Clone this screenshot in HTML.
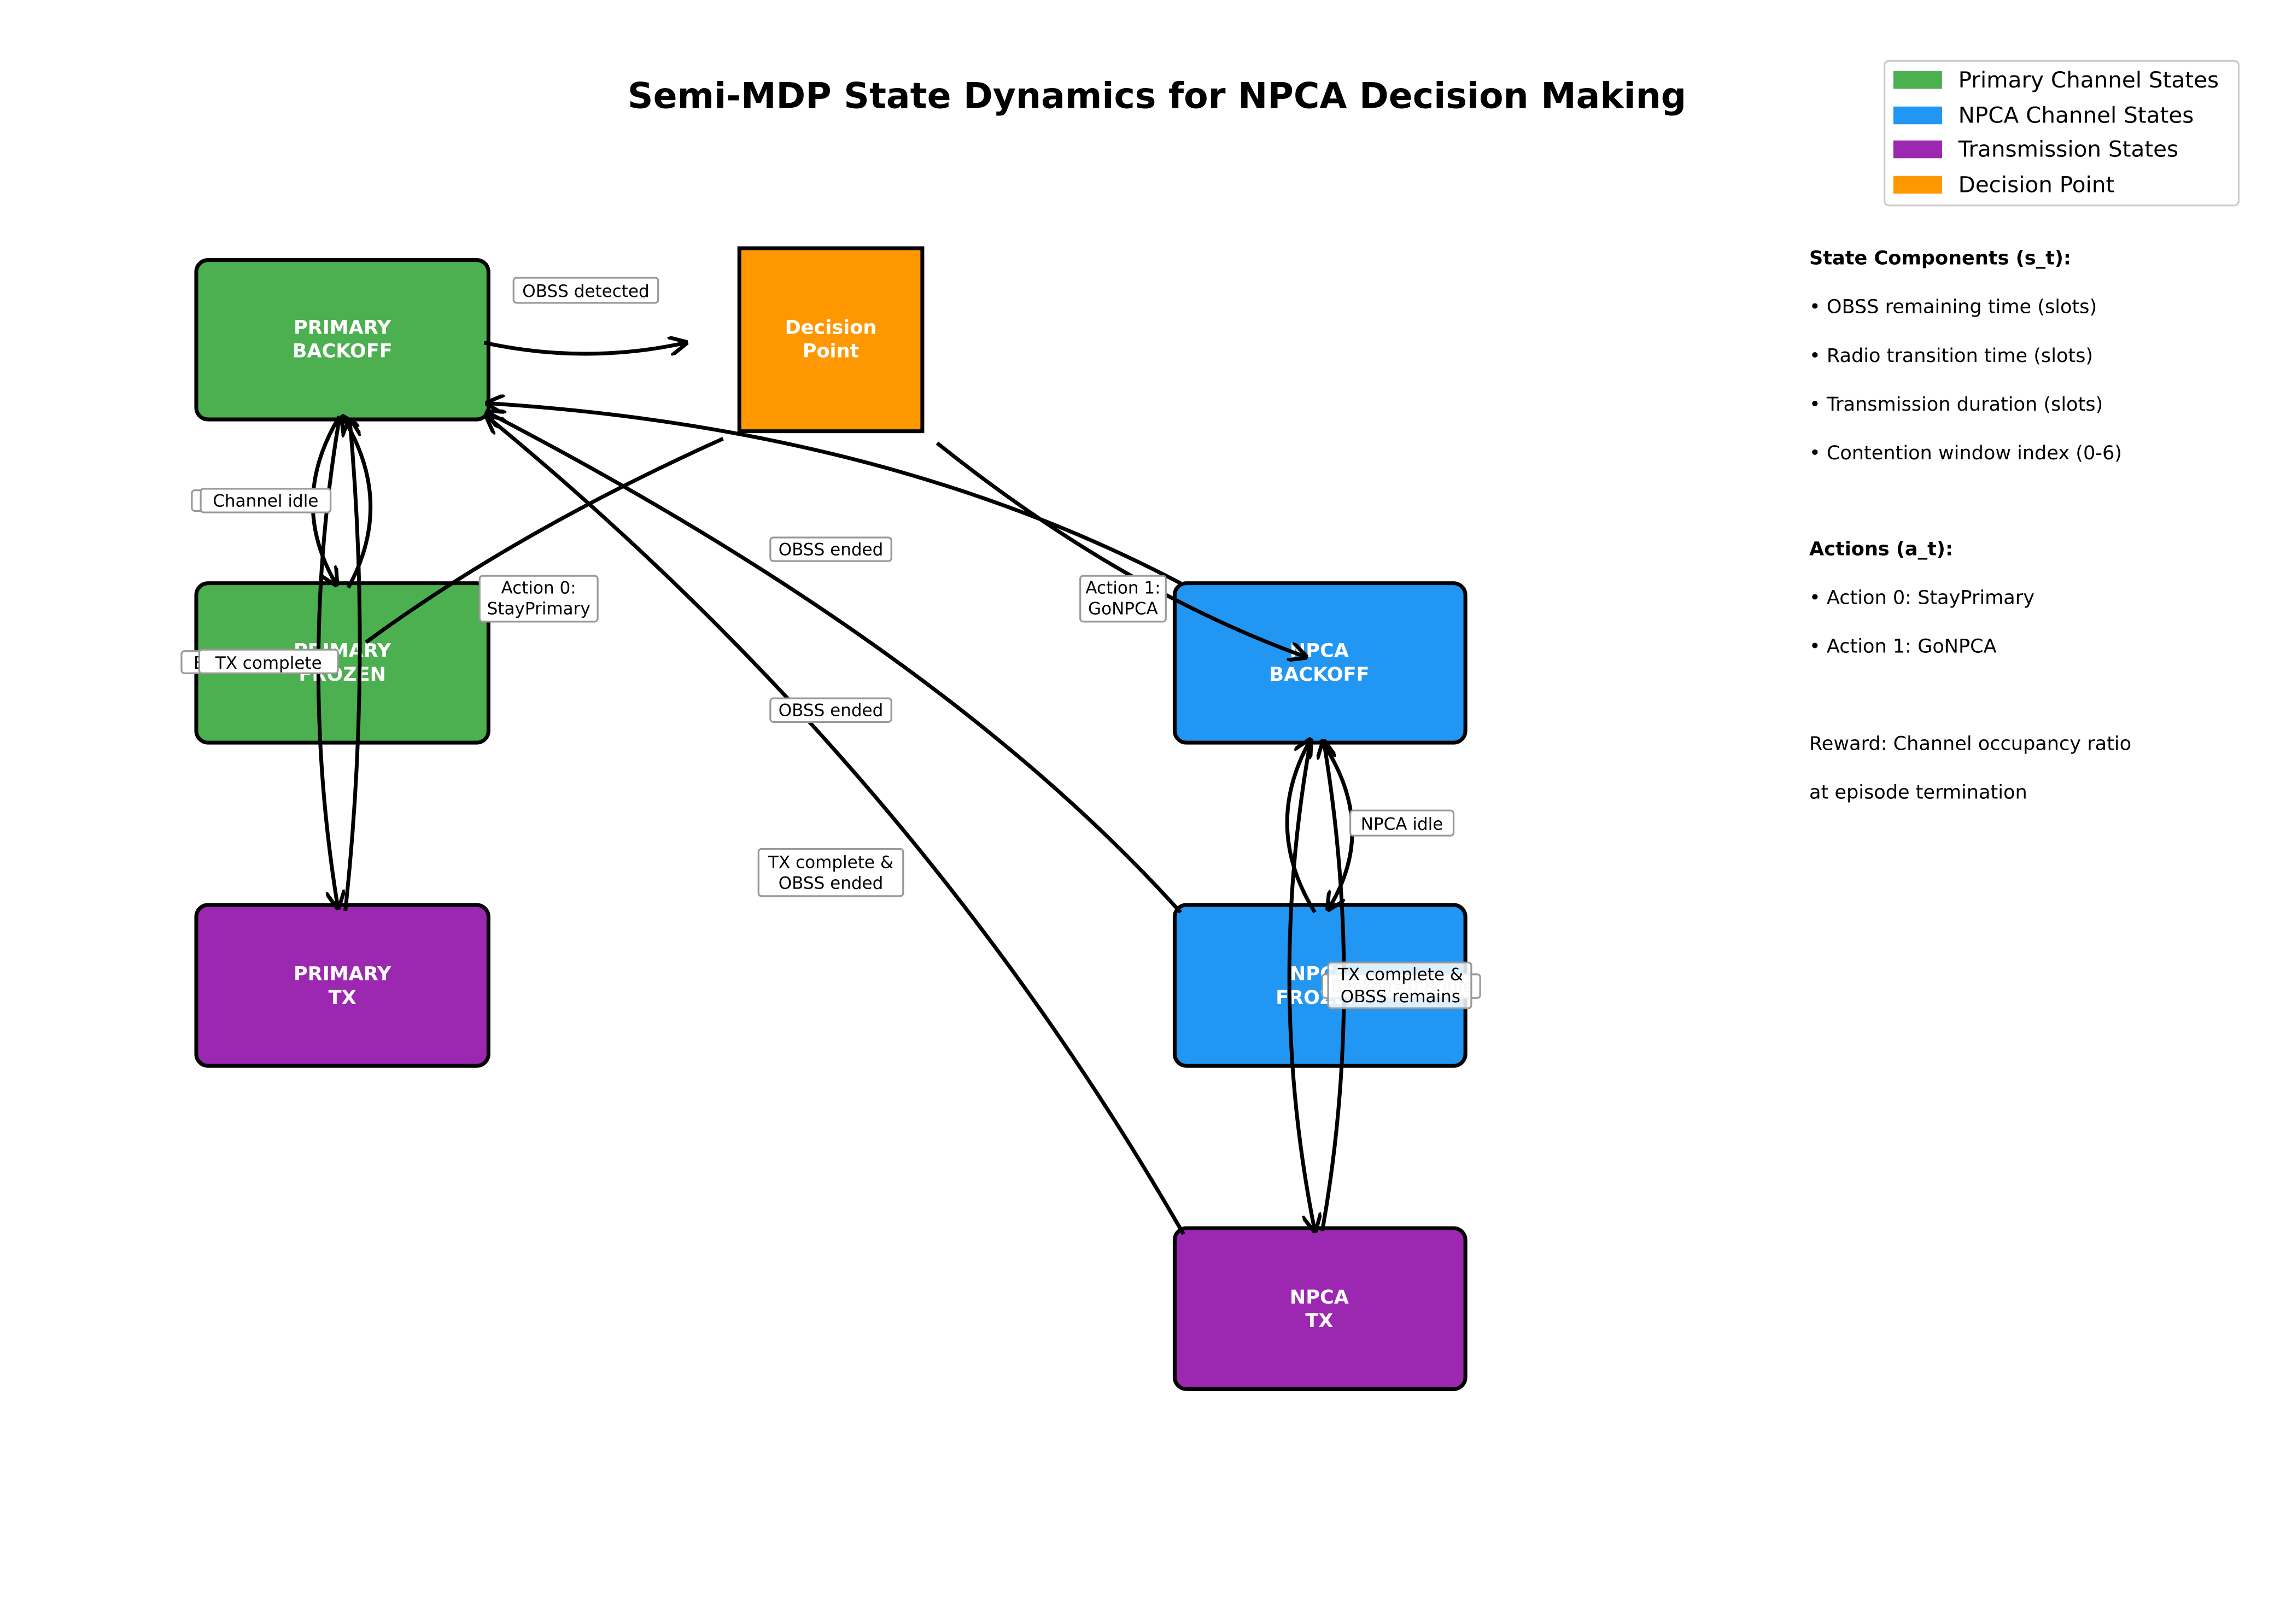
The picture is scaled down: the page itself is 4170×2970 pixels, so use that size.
<!DOCTYPE html>
<html><head><meta charset="utf-8"><style>
html,body{margin:0;padding:0;background:#fff}
svg{display:block}
text{font-family:"DejaVu Sans","Liberation Sans",sans-serif}
.bx{font-weight:bold;fill:#fff;font-size:13px;text-anchor:middle}
.lb{font-size:11.5px;text-anchor:middle}
.lr{fill:#fff;stroke:#999;stroke-width:1.2}
.ar{fill:none;stroke:#000;stroke-width:2.6}
.rt{font-size:13px}
</style></head><body>
<svg width="4170" height="2970" viewBox="0 0 1545 1100" xmlns="http://www.w3.org/2000/svg">
<defs><marker id="a" viewBox="0 0 10 10" refX="9" refY="5" markerWidth="5" markerHeight="5" orient="auto-start-reverse"><path d="M0,0 L10,5 L0,10" fill="none" stroke="#000" stroke-width="2"/></marker></defs>
<text x="784" y="73" text-anchor="middle" font-size="24" font-weight="bold">Semi-MDP State Dynamics for NPCA Decision Making</text>

<rect x="133" y="176" width="198" height="108" rx="8" fill="#4CAF50" stroke="#000" stroke-width="2.6"/>
<rect x="133" y="395" width="198" height="108" rx="8" fill="#4CAF50" stroke="#000" stroke-width="2.6"/>
<rect x="133" y="613" width="198" height="109" rx="8" fill="#9C27B0" stroke="#000" stroke-width="2.6"/>
<rect x="501" y="168" width="124" height="124" fill="#FF9800" stroke="#000" stroke-width="2.6"/>
<rect x="796" y="395" width="197" height="108" rx="8" fill="#2196F3" stroke="#000" stroke-width="2.6"/>
<rect x="796" y="613" width="197" height="109" rx="8" fill="#2196F3" stroke="#000" stroke-width="2.6"/>
<rect x="796" y="832" width="197" height="109" rx="8" fill="#9C27B0" stroke="#000" stroke-width="2.6"/>

<text class="bx" x="232" y="226">PRIMARY</text><text class="bx" x="232" y="242">BACKOFF</text>
<text class="bx" x="232" y="445">PRIMARY</text><text class="bx" x="232" y="461">FROZEN</text>
<text class="bx" x="232" y="664">PRIMARY</text><text class="bx" x="232" y="680">TX</text>
<text class="bx" x="563" y="226">Decision</text><text class="bx" x="563" y="242">Point</text>
<text class="bx" x="894" y="445">NPCA</text><text class="bx" x="894" y="461">BACKOFF</text>
<text class="bx" x="894" y="664">NPCA</text><text class="bx" x="894" y="680">FROZEN</text>
<text class="bx" x="894" y="883">NPCA</text><text class="bx" x="894" y="899">TX</text>

<path class="ar" marker-end="url(#a)" d="M328,232 Q397,247 465,232"/>
<path class="ar" d="M490,297 Q350,360 248,435"/>
<path class="ar" marker-end="url(#a)" d="M635,300 Q760,400 885,445"/>
<path class="ar" marker-end="url(#a)" d="M800,395 Q600,290 330,273"/>
<path class="ar" marker-end="url(#a)" d="M800,618 Q640,440 330,279"/>
<path class="ar" marker-end="url(#a)" d="M802,836 Q620,520 330,282"/>
<path class="ar" marker-end="url(#a)" d="M230,282 Q195,340 228,396"/>
<path class="ar" marker-end="url(#a)" d="M236,398 Q268,340 232,282"/>
<path class="ar" marker-end="url(#a)" d="M230,283 Q202,450 229,615"/>
<path class="ar" marker-end="url(#a)" d="M234,617 Q252,450 237,284"/>
<path class="ar" marker-end="url(#a)" d="M891,618 Q855,560 888,501"/>
<path class="ar" marker-end="url(#a)" d="M895,501 Q935,560 900,616"/>
<path class="ar" marker-end="url(#a)" d="M888,502 Q858,670 891,834"/>
<path class="ar" marker-end="url(#a)" d="M896,834 Q925,670 897,502"/>

<rect class="lr" x="130" y="332" width="80" height="14" rx="2"/>
<text class="lb" x="170" y="343" fill="#bbb">Infeasible</text>
<rect class="lr" x="136" y="331" width="88" height="16" rx="2"/><text class="lb" x="180" y="343">Channel idle</text>
<rect class="lr" x="123" y="441" width="100" height="15" rx="2"/><text class="lb" x="173" y="453">Backoff=0 idle</text>
<rect class="lr" x="135" y="440" width="94" height="16" rx="2"/><text class="lb" x="182" y="453">TX complete</text>
<rect class="lr" x="348" y="188" width="98" height="17" rx="2"/><text class="lb" x="397" y="201">OBSS detected</text>
<rect class="lr" x="325" y="390" width="80" height="31" rx="2"/><text class="lb" x="365" y="402">Action 0:</text><text class="lb" x="365" y="416">StayPrimary</text>
<rect class="lr" x="522" y="364" width="82" height="16" rx="2"/><text class="lb" x="563" y="376">OBSS ended</text>
<rect class="lr" x="522" y="473" width="82" height="16" rx="2"/><text class="lb" x="563" y="485">OBSS ended</text>
<rect class="lr" x="514" y="575" width="98" height="32" rx="2"/><text class="lb" x="563" y="588">TX complete &amp;</text><text class="lb" x="563" y="602">OBSS ended</text>
<rect class="lr" x="732" y="390" width="58" height="31" rx="2"/><text class="lb" x="761" y="402">Action 1:</text><text class="lb" x="761" y="416">GoNPCA</text>
<rect class="lr" x="915" y="549" width="70" height="17" rx="2"/><text class="lb" x="950" y="562">NPCA idle</text>
<rect class="lr" x="896" y="660" width="107" height="16" rx="2"/><text class="lb" x="950" y="672" fill="#bbb">Backoff=0 &amp; idle</text>
<rect class="lr" x="900" y="652" width="97" height="31" rx="2" fill-opacity="0.85"/><text class="lb" x="949" y="664">TX complete &amp;</text><text class="lb" x="949" y="679">OBSS remains</text>

<rect x="1277" y="41" width="240" height="98" rx="3" fill="#fff" stroke="#ccc" stroke-width="1.2"/>
<rect x="1283" y="48" width="33" height="12" fill="#4CAF50"/><text x="1327" y="59" font-size="15">Primary Channel States</text>
<rect x="1283" y="72" width="33" height="12" fill="#2196F3"/><text x="1327" y="83" font-size="15">NPCA Channel States</text>
<rect x="1283" y="95" width="33" height="12" fill="#9C27B0"/><text x="1327" y="106" font-size="15">Transmission States</text>
<rect x="1283" y="119" width="33" height="12" fill="#FF9800"/><text x="1327" y="130" font-size="15">Decision Point</text>

<text class="rt" x="1226" y="179" font-weight="bold">State Components (s_t):</text>
<text class="rt" x="1226" y="212">• OBSS remaining time (slots)</text>
<text class="rt" x="1226" y="245">• Radio transition time (slots)</text>
<text class="rt" x="1226" y="278">• Transmission duration (slots)</text>
<text class="rt" x="1226" y="311">• Contention window index (0-6)</text>
<text class="rt" x="1226" y="376" font-weight="bold">Actions (a_t):</text>
<text class="rt" x="1226" y="409">• Action 0: StayPrimary</text>
<text class="rt" x="1226" y="442">• Action 1: GoNPCA</text>
<text class="rt" x="1226" y="508">Reward: Channel occupancy ratio</text>
<text class="rt" x="1226" y="541">at episode termination</text>
</svg>
</body></html>
